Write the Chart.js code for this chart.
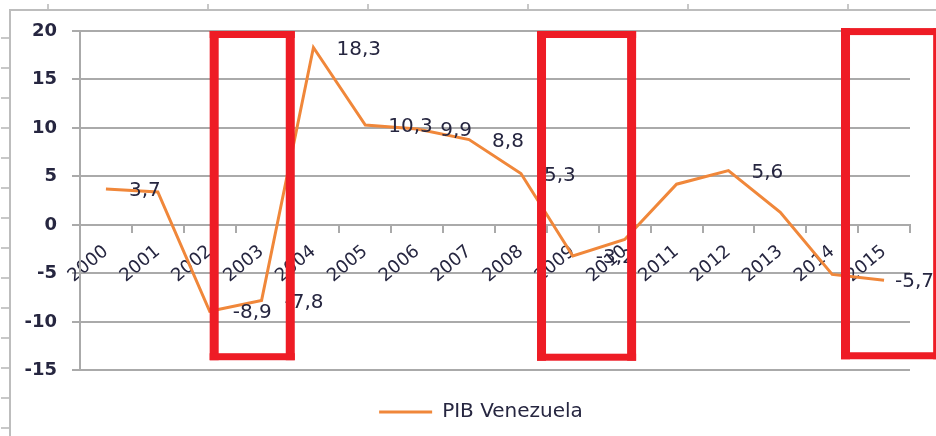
<!DOCTYPE html>
<html>
<head>
<meta charset="utf-8">
<script src="https://cdn.jsdelivr.net/npm/chart.js@4"></script>
<style>
  html, body { margin: 0; padding: 0; background: #fff; }
  #wrap { position: relative; width: 936px; height: 436px; overflow: hidden; }
  #frame { position: absolute; left: 9px; top: 9px; right: -4px; bottom: -4px;
           border-top: 2px solid #bdbdbd; border-left: 2px solid #bdbdbd; }
  #rulerTop { position: absolute; left: 47px; top: 4px; right: 0; height: 5px;
              background: repeating-linear-gradient(to right, #c8c8c8 0 2px, transparent 2px 160px); }
  #rulerLeft { position: absolute; left: 1px; top: 37px; width: 8px; bottom: 0;
               background: repeating-linear-gradient(to bottom, #c8c8c8 0 2px, transparent 2px 30px); }
  #chart { position: absolute; left: 0; top: 0; }
</style>
</head>
<body>
<div id="wrap">
  <div id="frame"></div>
  <div id="rulerTop"></div>
  <div id="rulerLeft"></div>
  <canvas id="chart" width="936" height="436"></canvas>
</div>
<script>
// data
const years = ['2000', '2001', '2002', '2003', '2004', '2005', '2006', '2007',
               '2008', '2009', '2010', '2011', '2012', '2013', '2014', '2015'];
const pibVenezuela = [3.7, 3.4, -8.9, -7.8, 18.3, 10.3, 9.9, 8.8,
                      5.3, -3.2, -1.5, 4.2, 5.6, 1.3, -5.1, -5.7];
// years that carry a value label
const labelledYears = ['2000', '2002', '2003', '2004', '2005', '2006', '2007',
                       '2008', '2009', '2012', '2015'];
const yMin = -15;
const yMax = 20;
const yStep = 5;

// red frames drawn over the chart, in category index / value units
const highlights = [
  { from: 2.0, to: 3.64, top: 20, bottom: -13.95 },
  { from: 8.31, to: 10.22, top: 20, bottom: -14 },
  { from: 14.17, to: 16.12, top: 20.3, bottom: -13.85 }
];

Chart.defaults.font.family = '"DejaVu Sans", Verdana, sans-serif';

const textColor = '#262640';
const gridColor = '#aaaaaa';
const lineColor = '#F0873A';

const pointLabels = {
  id: 'pointLabels',
  afterDatasetsDraw: function(chart) {
    var ctx = chart.ctx;
    var meta = chart.getDatasetMeta(0);
    ctx.save();
    ctx.font = '20px "DejaVu Sans"';
    ctx.fillStyle = textColor;
    ctx.textAlign = 'left';
    ctx.textBaseline = 'middle';
    meta.data.forEach(function(pt, i) {
      if (labelledYears.indexOf(years[i]) === -1) return;
      var text = String(pibVenezuela[i]).replace('.', ',');
      var w = ctx.measureText(text).width;
      var x = pt.x + 23;
      if (x + w > chart.width - 2) x = chart.width - 2 - w;
      ctx.fillText(text, x, pt.y + 2);
    });
    ctx.restore();
  }
};

const highlightBoxes = {
  id: 'highlightBoxes',
  afterDraw: function(chart) {
    var ctx = chart.ctx;
    var xs = chart.scales.x, ys = chart.scales.y;
    ctx.save();
    ctx.fillStyle = '#EE1C25';
    highlights.forEach(function(b) {
      var l = xs.getPixelForValue(b.from), r = xs.getPixelForValue(b.to);
      var t = ys.getPixelForValue(b.top), bt = ys.getPixelForValue(b.bottom);
      ctx.fillRect(l, t, 9, bt - t);
      ctx.fillRect(r - 9, t, 9, bt - t);
      ctx.fillRect(l, t, r - l, 7);
      ctx.fillRect(l, bt - 7, r - l, 7);
    });
    ctx.restore();
  }
};

// legend sits centred under the plot, not under the whole canvas
const legendShift = {
  id: 'legendShift',
  afterLayout: function(chart) {
    chart.legend.left = chart.chartArea.left - 28;
  }
};

new Chart(document.getElementById('chart'), {
  type: 'line',
  data: {
    labels: years,
    datasets: [{
      label: 'PIB Venezuela',
      data: pibVenezuela,
      borderColor: lineColor,
      backgroundColor: lineColor,
      borderWidth: 3,
      pointRadius: 0,
      tension: 0
    }]
  },
  options: {
    responsive: false,
    animation: false,
    layout: { padding: { top: 31, right: 26, bottom: 4, left: 0 } },
    scales: {
      x: {
        type: 'category',
        offset: true,
        position: { y: 0 },
        grid: { display: true, drawOnChartArea: false, drawTicks: true, tickLength: 7,
                offset: true, color: gridColor, lineWidth: 2 },
        border: { display: true, color: gridColor, width: 2 },
        ticks: { autoSkip: false, minRotation: 40, maxRotation: 40, padding: 9,
                 color: textColor, font: { size: 18 } }
      },
      y: {
        min: yMin,
        max: yMax,
        afterFit: function(scale) { scale.width = 80; },
        grid: { color: gridColor, lineWidth: 2, tickLength: 8 },
        border: { display: true, color: gridColor, width: 2 },
        ticks: { stepSize: yStep, padding: 15, color: textColor,
                 font: { size: 18, weight: 'bold' } }
      }
    },
    plugins: {
      tooltip: { enabled: false },
      legend: {
        position: 'bottom',
        title: { display: true, text: ' ', padding: 0, font: { size: 18 } },
        labels: {
          color: textColor,
          font: { size: 20 },
          boxWidth: 53,
          boxHeight: 3,
          generateLabels: function(chart) {
            var items = Chart.defaults.plugins.legend.labels.generateLabels(chart);
            items.forEach(function(it) { it.lineWidth = 0; it.fillStyle = lineColor; });
            return items;
          }
        }
      }
    }
  },
  plugins: [pointLabels, highlightBoxes, legendShift]
});
</script>
</body>
</html>
